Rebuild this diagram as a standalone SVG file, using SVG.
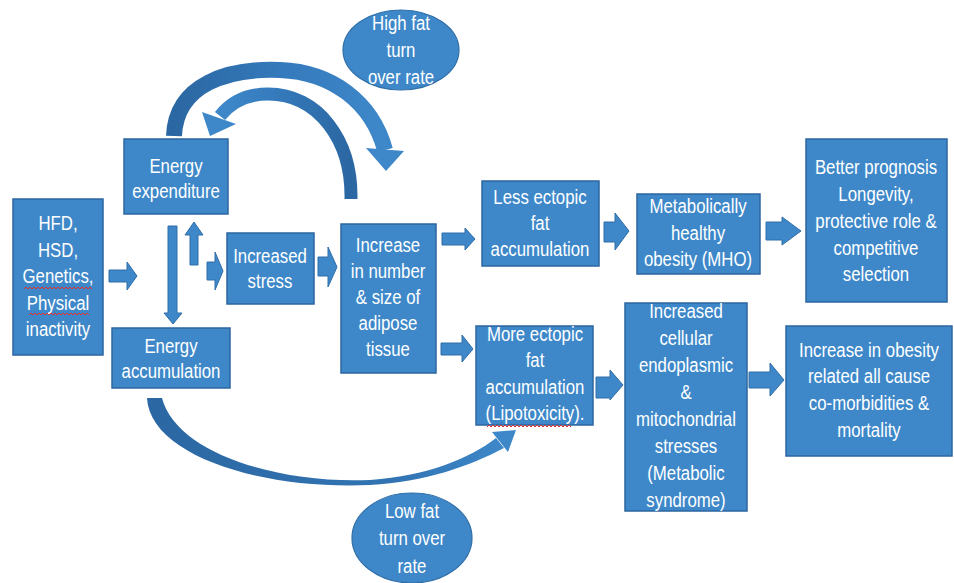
<svg xmlns="http://www.w3.org/2000/svg" width="954" height="583" viewBox="0 0 954 583">
<defs>
<style>
.box{fill:#3e88c9;stroke:#2b669f;stroke-width:1.5}
.ell{fill:#3e88c9;stroke:#2f6ea8;stroke-width:1.2}
.t{font-family:"Liberation Sans",Arial,sans-serif;font-size:21px;fill:#ffffff;text-anchor:middle}
.ar{fill:#3e88c9;stroke:#2f6ea8;stroke-width:1}
.sq{fill:none;stroke:#e03030;stroke-width:1}
</style>
<linearGradient id="gOut" x1="0" y1="0" x2="1" y2="0">
<stop offset="0" stop-color="#2b67a2"/><stop offset="0.5" stop-color="#3479bb"/><stop offset="1" stop-color="#3e88c9"/>
</linearGradient>
<linearGradient id="gIn" x1="1" y1="0" x2="0" y2="0">
<stop offset="0" stop-color="#2b67a2"/><stop offset="0.6" stop-color="#357bbd"/><stop offset="1" stop-color="#3e88c9"/>
</linearGradient>
<linearGradient id="gLow" x1="0" y1="0" x2="1" y2="0">
<stop offset="0" stop-color="#2b67a2"/><stop offset="0.7" stop-color="#3274b3"/><stop offset="1" stop-color="#3e88c9"/>
</linearGradient>
</defs>

<g id="connectors">
<path d="M174,136 C176,84 228,68 280,70 C332,72 372,102 385,150" fill="none" stroke="url(#gOut)" stroke-width="16"/>
<polygon points="366,148 404,151 386,171" fill="#3e88c9"/>
<path d="M351,199 C352,140 318,94 268,94 C248,94 232,101 220,116" fill="none" stroke="url(#gIn)" stroke-width="13"/>
<polygon points="202,112 236,124 210,136" fill="#3e88c9"/>
<path d="M147,398 C150,455 260,490 370,485 C425,482 470,466 504,448 L496,438 C470,458 428,476 370,480 C275,484 176,452 162,398 Z" fill="url(#gLow)"/>
<polygon points="508,452 492,432 516,430" fill="#3e88c9"/>
<polygon class="ar" points="109,270 127,270 127,262 137,276 127,290 127,282 109,282"/>
<polygon class="ar" points="207,262 215,262 215,252 223,271 215,290 215,280 207,280"/>
<polygon class="ar" points="318,257 328,257 328,247 337,267 328,287 328,276 318,276"/>
<polygon class="ar" points="442,233 465,233 465,228 475,239 465,250 465,245 442,245"/>
<polygon class="ar" points="441,343 462,343 462,335 473,349 462,362 462,355 441,355"/>
<polygon class="ar" points="604,222 615,222 615,213 629,231 615,250 615,242 604,242"/>
<polygon class="ar" points="766,222 782,222 782,217 801,231 782,245 782,240 766,240"/>
<polygon class="ar" points="596,377 610,377 610,370 623,385 610,400 610,398 596,398"/>
<polygon class="ar" points="749,372 770,372 770,363 784,380 770,396 770,388 749,388"/>
<polygon class="ar" points="168,226 177,226 177,313 182,313 173,324 164,313 168,313"/>
<polygon class="ar" points="190,265 198,265 198,235 203,235 194,222 185,235 190,235"/>
</g>

<g id="high-fat">
<ellipse class="ell" cx="401" cy="50" rx="58" ry="40"/>
<g transform="matrix(0.8 0 0 1 401 0)">
<text class="t" x="0" y="30">High fat</text>
<text class="t" x="0" y="57">turn</text>
<text class="t" x="0" y="84">over rate</text>
</g>
</g>

<g id="low-fat">
<ellipse class="ell" cx="412" cy="538" rx="60" ry="45"/>
<g transform="matrix(0.8 0 0 1 412 0)">
<text class="t" x="0" y="518">Low fat</text>
<text class="t" x="0" y="545">turn over</text>
<text class="t" x="0" y="573">rate</text>
</g>
</g>

<g id="hfd">
<rect class="box" x="13" y="199" width="90" height="156"/>
<g transform="matrix(0.8 0 0 1 58 0)">
<text class="t" x="0" y="230">HFD,</text>
<text class="t" x="0" y="257">HSD,</text>
<text class="t" x="0" y="283">Genetics,</text>
<text class="t" x="0" y="310">Physical</text>
<text class="t" x="0" y="336">inactivity</text>
</g>
<path class="sq" d="M24,289 l2,-2 2,2 2,-2 2,2 2,-2 2,2 2,-2 2,2 2,-2 2,2 2,-2 2,2 2,-2 2,2 2,-2 2,2 2,-2 2,2 2,-2 2,2 2,-2 2,2 2,-2 2,2 2,-2 2,2 2,-2 2,2 2,-2 2,2 2,-2 2,2 2,-2 2,2"/>
<path class="sq" d="M29,315 l2,-2 2,2 2,-2 2,2 2,-2 2,2 2,-2 2,2 2,-2 2,2 2,-2 2,2 2,-2 2,2 2,-2 2,2 2,-2 2,2 2,-2 2,2 2,-2 2,2 2,-2 2,2 2,-2 2,2 2,-2 2,2 2,-2 2,2"/>
</g>

<g id="energy-expenditure">
<rect class="box" x="124" y="139" width="104" height="75"/>
<g transform="matrix(0.8 0 0 1 176 0)">
<text class="t" x="0" y="173">Energy</text>
<text class="t" x="0" y="198">expenditure</text>
</g>
</g>

<g id="energy-accumulation">
<rect class="box" x="112" y="328" width="118" height="60"/>
<g transform="matrix(0.8 0 0 1 171 0)">
<text class="t" x="0" y="353">Energy</text>
<text class="t" x="0" y="378">accumulation</text>
</g>
</g>

<g id="increased-stress">
<rect class="box" x="227" y="233" width="87" height="71"/>
<g transform="matrix(0.8 0 0 1 270 0)">
<text class="t" x="0" y="263">Increased</text>
<text class="t" x="0" y="288">stress</text>
</g>
</g>

<g id="adipose">
<rect class="box" x="341" y="224" width="95" height="149"/>
<g transform="matrix(0.8 0 0 1 388 0)">
<text class="t" x="0" y="252">Increase</text>
<text class="t" x="0" y="278">in number</text>
<text class="t" x="0" y="304">&amp; size of</text>
<text class="t" x="0" y="330">adipose</text>
<text class="t" x="0" y="356">tissue</text>
</g>
</g>

<g id="less-ectopic">
<rect class="box" x="482" y="181" width="117" height="85"/>
<g transform="matrix(0.8 0 0 1 540 0)">
<text class="t" x="0" y="204">Less ectopic</text>
<text class="t" x="0" y="230">fat</text>
<text class="t" x="0" y="256">accumulation</text>
</g>
</g>

<g id="mho">
<rect class="box" x="637" y="194" width="123" height="80"/>
<g transform="matrix(0.8 0 0 1 698 0)">
<text class="t" x="0" y="213">Metabolically</text>
<text class="t" x="0" y="240">healthy</text>
<text class="t" x="0" y="266">obesity (MHO)</text>
</g>
</g>

<g id="better-prognosis">
<rect class="box" x="806" y="139" width="141" height="163"/>
<g transform="matrix(0.8 0 0 1 876 0)">
<text class="t" x="0" y="174">Better prognosis</text>
<text class="t" x="0" y="201">Longevity,</text>
<text class="t" x="0" y="228">protective role &amp;</text>
<text class="t" x="0" y="255">competitive</text>
<text class="t" x="0" y="281">selection</text>
</g>
</g>

<g id="more-ectopic">
<rect class="box" x="476" y="326" width="117" height="99"/>
<g transform="matrix(0.8 0 0 1 535 0)">
<text class="t" x="0" y="341">More ectopic</text>
<text class="t" x="0" y="367">fat</text>
<text class="t" x="0" y="394">accumulation</text>
<text class="t" x="0" y="420">(Lipotoxicity).</text>
</g>
<path class="sq" d="M487,427 l2,-2 2,2 2,-2 2,2 2,-2 2,2 2,-2 2,2 2,-2 2,2 2,-2 2,2 2,-2 2,2 2,-2 2,2 2,-2 2,2 2,-2 2,2 2,-2 2,2 2,-2 2,2 2,-2 2,2 2,-2 2,2 2,-2 2,2 2,-2 2,2 2,-2 2,2 2,-2 2,2 2,-2 2,2 2,-2 2,2 2,-2 2,2"/>
</g>

<g id="cellular-stress">
<rect class="box" x="625" y="303" width="122" height="208"/>
<g transform="matrix(0.8 0 0 1 686 0)">
<text class="t" x="0" y="318">Increased</text>
<text class="t" x="0" y="345">cellular</text>
<text class="t" x="0" y="372">endoplasmic</text>
<text class="t" x="0" y="399">&amp;</text>
<text class="t" x="0" y="426">mitochondrial</text>
<text class="t" x="0" y="453">stresses</text>
<text class="t" x="0" y="480">(Metabolic</text>
<text class="t" x="0" y="507">syndrome)</text>
</g>
</g>

<g id="obesity-mortality">
<rect class="box" x="786" y="326" width="166" height="130"/>
<g transform="matrix(0.8 0 0 1 869 0)">
<text class="t" x="0" y="357">Increase in obesity</text>
<text class="t" x="0" y="383">related all cause</text>
<text class="t" x="0" y="410">co-morbidities &amp;</text>
<text class="t" x="0" y="437">mortality</text>
</g>
</g>
</svg>
